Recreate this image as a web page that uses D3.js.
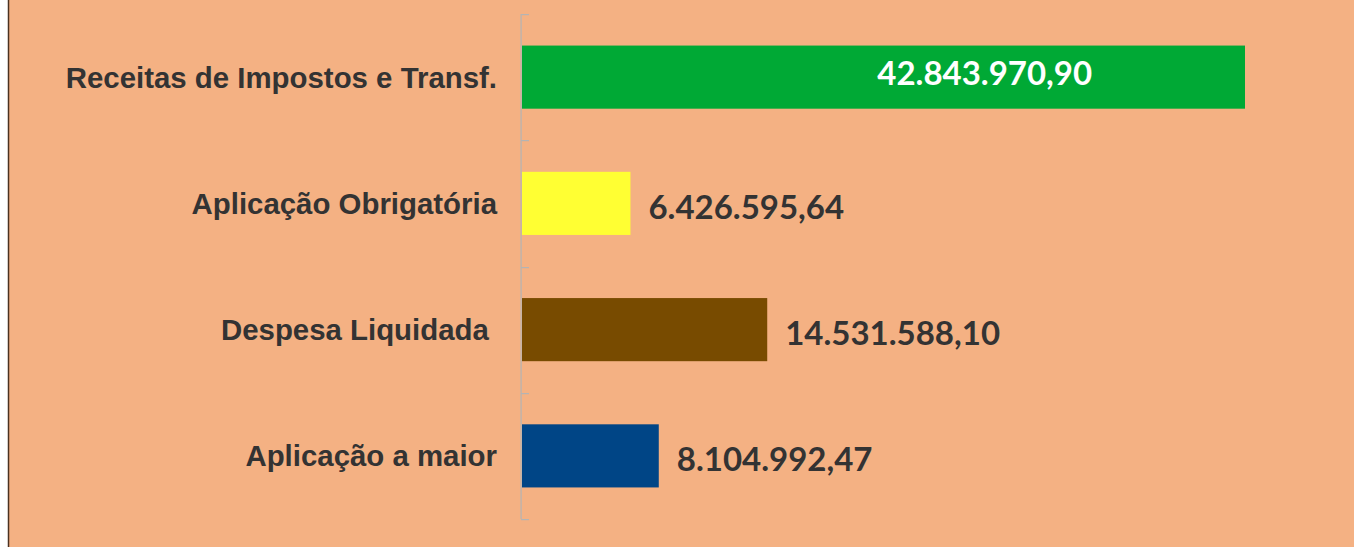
<!DOCTYPE html>
<html>
<head>
<meta charset="utf-8">
<script src="https://cdn.jsdelivr.net/npm/d3@7"></script>
<style>
  body { margin: 0; background: #fff; }
  svg { display: block; }
  .cat { font-family: "Liberation Sans", Arial, sans-serif; font-weight: bold; font-size: 29.4px; fill: #333333; white-space: pre; }
  .val { font-family: Lato, "Open Sans", sans-serif; font-weight: bold; font-size: 33px; fill: #333333; }
</style>
</head>
<body>
<div class="viz"></div>
<script>
// dimensions
var width = 1354, height = 547;

// data
var categories = ["Receitas de Impostos e Transf.", "Aplicação Obrigatória", "Despesa Liquidada ", "Aplicação a maior"];
var values = [42843970.90, 6426595.64, 14531588.10, 8104992.47];
var valueLabels = ["42.843.970,90", "6.426.595,64", "14.531.588,10", "8.104.992,47"];
var barColors = ["#00A935", "#FFFF33", "#784B00", "#004586"];

var data = categories.map((c, i) => ({ cat: c, value: values[i], label: valueLabels[i], color: barColors[i] }));

var svg = d3.select(".viz")
  .append("svg")
  .attr("width", width)
  .attr("height", height);

// background panel with left border
svg.append("rect")
  .attr("x", 8).attr("y", 0)
  .attr("width", width - 8).attr("height", height)
  .attr("fill", "#F4B183");
svg.append("line")
  .attr("x1", 8.5).attr("x2", 8.5)
  .attr("y1", 0).attr("y2", height)
  .attr("stroke", "#4B3221").attr("stroke-width", 1.5);

// scales
var yScale = d3.scaleBand()
  .domain(categories)
  .range([14, 519])
  .paddingInner(0.5)
  .paddingOuter(0.25);

var xScale = d3.scaleLinear()
  .domain([0, d3.max(values)])
  .range([522, 1245]);

// bars
svg.selectAll(".bar")
  .data(data)
  .enter()
  .append("rect")
  .attr("class", "bar")
  .attr("x", xScale(0))
  .attr("y", d => yScale(d.cat))
  .attr("width", d => xScale(d.value) - xScale(0))
  .attr("height", yScale.bandwidth())
  .attr("fill", d => d.color);

// category axis (ticks between categories, pointing right)
var step = yScale.step();
var bounds = [yScale.range()[0]].concat(categories.map(c => yScale(c) + yScale.bandwidth() + step * yScale.paddingInner() / 2));
var axis = svg.append("g");
axis.append("rect")
  .attr("x", 520.5).attr("width", 1.2)
  .attr("y", bounds[0]).attr("height", bounds[bounds.length - 1] - bounds[0])
  .attr("fill", "#B4B4B4");
axis.selectAll(".tick")
  .data(bounds)
  .enter()
  .append("rect")
  .attr("class", "tick")
  .attr("x", 521).attr("width", 8)
  .attr("y", d => Math.round(d))
  .attr("height", 1.2)
  .attr("fill", "#B4B4B4");

// category labels
svg.selectAll(".cat")
  .data(data)
  .enter()
  .append("text")
  .attr("class", "cat")
  .attr("x", 497)
  .attr("y", d => yScale(d.cat) + yScale.bandwidth() / 2 + 10.5)
  .attr("text-anchor", "end")
  .text(d => d.cat);

// value labels: largest bar inside (white), the rest outside
var maxVal = d3.max(values);
svg.selectAll(".val")
  .data(data)
  .enter()
  .append("text")
  .attr("class", "val")
  .attr("x", d => d.value === maxVal ? xScale(d.value * 0.64) : xScale(d.value) + 18)
  .attr("y", d => yScale(d.cat) + yScale.bandwidth() / 2 + (d.value === maxVal ? 8.2 : 15.4))
  .attr("text-anchor", d => d.value === maxVal ? "middle" : "start")
  .style("fill", d => d.value === maxVal ? "#ffffff" : "#333333")
  .text(d => d.label);
</script>
</body>
</html>
